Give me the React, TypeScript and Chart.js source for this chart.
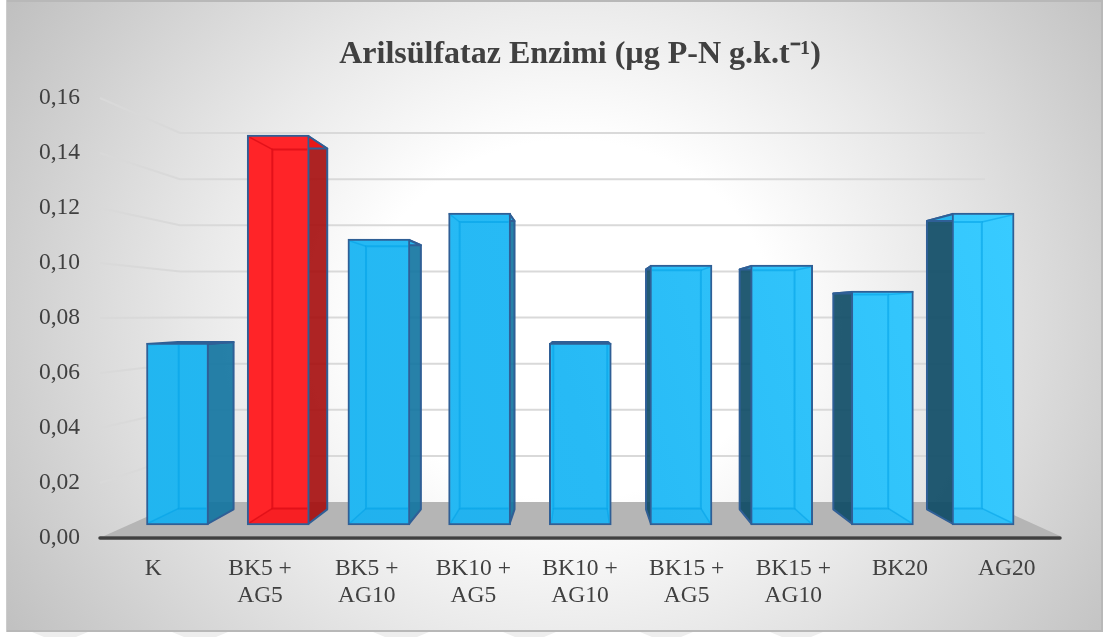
import React, { useEffect, useRef } from "react";
import { Chart, registerables } from "chart.js";

Chart.register(...registerables);

const categories = [
  "K",
  ["BK5 +", "AG5"],
  ["BK5 +", "AG10"],
  ["BK10 +", "AG5"],
  ["BK10 +", "AG10"],
  ["BK15 +", "AG5"],
  ["BK15 +", "AG10"],
  "BK20",
  "AG20",
];
const enzymeValues = [0.07, 0.15, 0.11, 0.12, 0.07, 0.1, 0.1, 0.09, 0.12];
const barPositions = [0, 1, 2, 3, 4, 5, 6, 7, 8];
const highlightedIndex = 1;
const chartTitle = "Arilsülfataz Enzimi (µg P-N g.k.t⁻¹)";
const backWallTicks = [0.02, 0.04, 0.06, 0.08, 0.1, 0.12, 0.14, 0.16];

const FONT = "'Liberation Serif', 'Times New Roman', serif";
const TEXT = "#404040";
const EDGE = "#2f5f96";
const SCALE = 0.93;
const VX = 580;
const VY = 315;

const back = (x: number, y: number): [number, number] => [
  VX + SCALE * (x - VX),
  VY + SCALE * (y - VY),
];

const poly = (c: CanvasRenderingContext2D, pts: number[][], fill?: string, stroke?: string, lw = 2) => {
  c.beginPath();
  pts.forEach((p, i) => (i ? c.lineTo(p[0], p[1]) : c.moveTo(p[0], p[1])));
  c.closePath();
  if (fill) {
    c.fillStyle = fill;
    c.fill();
  }
  if (stroke) {
    c.strokeStyle = stroke;
    c.lineWidth = lw;
    c.lineJoin = "round";
    c.stroke();
  }
};

const stagePlugin = {
  id: "stage",
  beforeDraw(chart: any) {
    const c: CanvasRenderingContext2D = chart.ctx;
    c.save();
    c.fillStyle = "#ffffff";
    c.fillRect(0, 0, chart.width, chart.height);
    // faint marks below the frame
    [[32, 88], [172, 228], [373, 429], [503, 556], [640, 693], [770, 823]].forEach(([a, b]) =>
      poly(c, [[a, 632], [b, 632], [b - 12, 637], [a + 12, 637]], "#eeeeee")
    );
    c.save();
    c.beginPath();
    c.rect(6, 0, 1097, 632);
    c.clip();
    c.translate(570, 320);
    c.scale(680, 600);
    const g = c.createRadialGradient(0, 0, 0, 0, 0, 1);
    g.addColorStop(0, "#ffffff");
    g.addColorStop(0.3, "#ffffff");
    g.addColorStop(0.55, "#e9e9e9");
    g.addColorStop(0.82, "#cfcfcf");
    g.addColorStop(1, "#bebebe");
    c.fillStyle = g;
    c.fillRect(-2, -2, 4, 4);
    c.restore();
    c.fillStyle = "#b8b8b8";
    c.fillRect(6, 0, 1097, 2);
    c.fillRect(6, 630, 1097, 2);
    c.fillRect(1101, 0, 2, 632);
    c.fillStyle = "#cccccc";
    c.fillRect(6, 0, 1, 632);
    c.restore();
  },
  beforeDatasetsDraw(chart: any) {
    const c: CanvasRenderingContext2D = chart.ctx;
    const { y: yFront, yWall, x } = chart.scales;
    const left = x.left;
    const right = x.right;
    const inLeft = left + 80;
    const inRight = right - 75;
    c.save();
    // floor
    poly(
      c,
      [
        [left + 4, yFront.getPixelForValue(0) - 2],
        [inLeft, yWall.getPixelForValue(0)],
        [inRight, yWall.getPixelForValue(0)],
        [right, yFront.getPixelForValue(0) - 2],
      ],
      "#b5b5b5"
    );
    // walls
    c.strokeStyle = "#d9d9d9";
    c.lineWidth = 2;
    backWallTicks.forEach((v) => {
      const w = yWall.getPixelForValue(v);
      c.beginPath();
      c.moveTo(left, yFront.getPixelForValue(v));
      c.lineTo(inLeft, w);
      c.lineTo(inRight, w);
      c.stroke();
    });
    // axis line
    c.strokeStyle = TEXT;
    c.lineWidth = 3.5;
    c.lineCap = "round";
    c.beginPath();
    c.moveTo(left, yFront.getPixelForValue(0));
    c.lineTo(right, yFront.getPixelForValue(0));
    c.stroke();

    // side faces behind the front faces
    const meta = chart.getDatasetMeta(0);
    meta.data.forEach((bar: any, i: number) => {
      const l = bar.x - bar.width / 2 + 1;
      const r = bar.x + bar.width / 2 - 1;
      const t = bar.y + 1;
      const b = bar.base - 1;
      const red = i === highlightedIndex;
      const onRight = bar.x < VX - 5;
      const onLeft = bar.x > VX + 5;
      const side = red
        ? "rgba(165,12,12,0.9)"
        : onRight
        ? "rgba(15,115,160,0.9)"
        : "rgba(11,73,100,0.9)";
      if (onRight)
        poly(c, [[r, t], back(r, t), back(r, b), [r, b]], side, EDGE);
      if (onLeft)
        poly(c, [[l, t], back(l, t), back(l, b), [l, b]], side, EDGE);
      poly(c, [[l, t], back(l, t), back(r, t), [r, t]], red ? "#e81818" : "#25b5ee", EDGE);
    });
    c.restore();
  },
  afterDatasetsDraw(chart: any) {
    const c: CanvasRenderingContext2D = chart.ctx;
    const meta = chart.getDatasetMeta(0);
    c.save();
    meta.data.forEach((bar: any, i: number) => {
      const l = bar.x - bar.width / 2 + 2;
      const r = bar.x + bar.width / 2 - 2;
      const t = bar.y + 2;
      const b = bar.base - 2;
      const red = i === highlightedIndex;
      const line = red ? "rgba(215,10,20,0.7)" : "rgba(0,160,230,0.55)";
      const [bl, bt] = back(l, t);
      const [br, bb] = back(r, b);
      c.save();
      c.beginPath();
      c.rect(l, t, r - l, b - t);
      c.clip();
      poly(c, [[l, b], [bl, bb], [br, bb], [r, b]], red ? "rgba(190,0,0,0.12)" : "rgba(0,110,190,0.08)");
      poly(c, [[bl, bt], [br, bt], [br, bb], [bl, bb]], undefined, line, 2);
      c.strokeStyle = line;
      c.lineWidth = 1.5;
      [[l, t, bl, bt], [r, t, br, bt], [l, b, bl, bb], [r, b, br, bb]].forEach((s) => {
        c.beginPath();
        c.moveTo(s[0], s[1]);
        c.lineTo(s[2], s[3]);
        c.stroke();
      });
      c.restore();
    });
    c.restore();
  },
};

export default function App() {
  const ref = useRef<HTMLCanvasElement | null>(null);
  useEffect(() => {
    const canvas = ref.current;
    if (!canvas) return;
    const frontFill = (ctx: any) => {
      if (ctx.dataIndex === highlightedIndex) return "#ff2428";
      const area = ctx.chart.chartArea;
      if (!area) return "#25b9f3";
      const g = ctx.chart.ctx.createLinearGradient(0, 525, 1013, 213);
      g.addColorStop(0, "#1fb4ee");
      g.addColorStop(0.55, "#27baf5");
      g.addColorStop(1, "#38cbff");
      return g;
    };
    const chart = new Chart(canvas, {
      type: "bar",
      data: {
        labels: categories as any,
        datasets: [
          {
            label: "Arilsülfataz",
            data: barPositions.map((p, i) => ({ x: p, y: enzymeValues[i] })) as any,
            xAxisID: "xBars",
            yAxisID: "yBars",
            backgroundColor: frontFill,
            borderColor: EDGE,
            borderWidth: 2,
            borderSkipped: false,
            barThickness: 62,
          },
        ],
      },
      options: {
        responsive: false,
        animation: false,
        layout: { padding: { left: 0, right: 43, top: 0, bottom: 0 } },
        plugins: {
          legend: { display: false },
          tooltip: { enabled: false },
          title: {
            display: true,
            fullSize: false,
            text: chartTitle,
            color: TEXT,
            font: { family: FONT, size: 32, weight: "bold", lineHeight: 1.2 },
            padding: { top: 36, bottom: 23.6 },
          },
        },
        scales: {
          x: {
            type: "category",
            offset: true,
            grid: { display: false },
            border: { display: false },
            ticks: {
              color: TEXT,
              autoSkip: false,
              maxRotation: 0,
              padding: 9,
              font: { family: FONT, size: 23.5, lineHeight: 1.15 },
            },
            afterFit: (s: any) => {
              s.height = 99;
            },
          },
          y: {
            type: "linear",
            min: 0,
            max: 0.16,
            position: "left",
            grid: { display: false, drawTicks: false },
            border: { display: false },
            ticks: {
              stepSize: 0.02,
              padding: 20,
              color: TEXT,
              font: { family: FONT, size: 23.5 },
              callback: (v: any) => Number(v).toFixed(2).replace(".", ","),
            },
            afterFit: (s: any) => {
              s.width = 100;
            },
          },
          xBars: {
            type: "linear",
            axis: "x",
            display: false,
            min: -0.7696,
            max: 8.7637,
            offset: false,
          },
          yBars: {
            type: "linear",
            axis: "y",
            display: false,
            min: -0.005,
            max: 0.16423,
          },
          yWall: {
            type: "linear",
            axis: "y",
            display: false,
            min: -0.015611,
            max: 0.175195,
          },
        },
      } as any,
      plugins: [stagePlugin as any],
    });
    return () => chart.destroy();
  }, []);
  return (
    <div style={{ position: "absolute", left: 0, top: 0, width: 1103, height: 637 }}>
      <canvas ref={ref} width={1103} height={637} style={{ display: "block" }} />
    </div>
  );
}
